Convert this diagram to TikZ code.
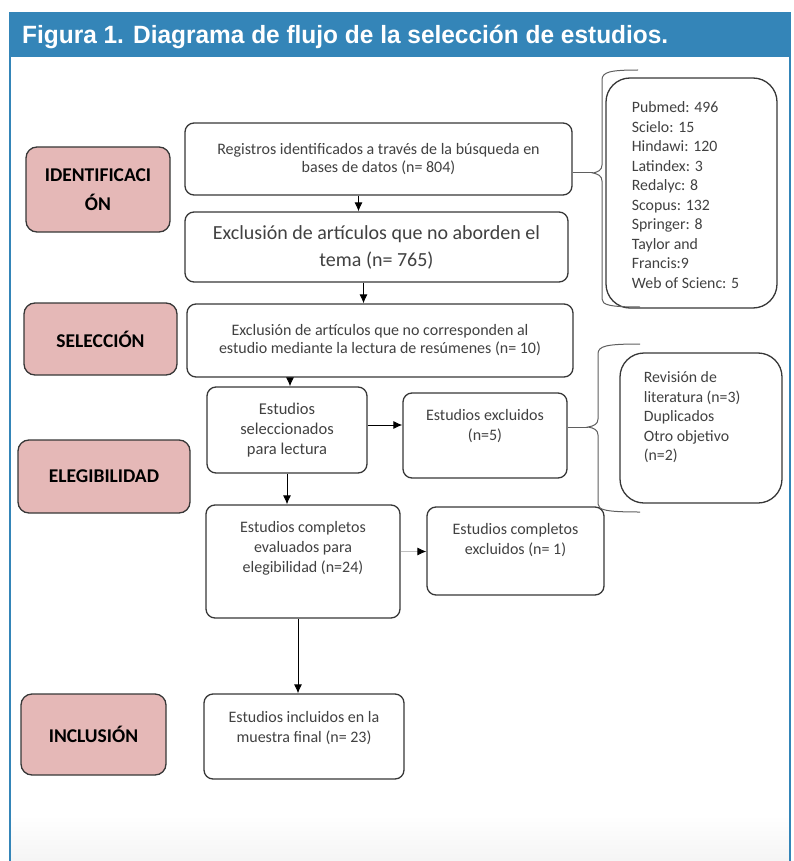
\documentclass[tikz,border=0pt]{standalone}
\usepackage{fontspec}
\setmainfont{Carlito}
\newfontfamily\titlefont{Liberation Sans}
\usepackage{graphicx}
\usetikzlibrary{positioning,arrows.meta}
\definecolor{hdrblue}{RGB}{52,133,184}
\definecolor{stagepink}{RGB}{229,184,183}
\definecolor{boxline}{RGB}{55,55,55}
\definecolor{boxtext}{RGB}{65,65,65}
\tikzset{
  flowbox/.style={draw=boxline, line width=1.3pt, rounded corners=9pt, fill=white, text=boxtext, align=center, font=\fontsize{16}{18}\selectfont},
  stagebox/.style={draw=boxline, line width=1.3pt, rounded corners=11pt, fill=stagepink, align=center, font=\bfseries\fontsize{19.5}{29}\selectfont},
  notebox/.style={draw=boxline, line width=1.3pt, rounded corners=24pt, fill=white},
  toptext/.style={anchor=north, yshift=-14pt, text=boxtext, align=center, font=\fontsize{16}{20}\selectfont},
  listtext/.style={anchor=north west, text=boxtext, align=left, font=\fontsize{15.8}{19.5}\selectfont},
  flowarrow/.style={-{Latex[length=9pt,width=8pt]}, line width=0.8pt, black},
  bracket/.style={line width=1pt, draw=boxline!80}
}
\newcommand{\stage}[6]{\node[stagebox, minimum width=#3, minimum height=#4] (#5) at ( #1 , #2 ) {#6};}
\newcommand{\flowbox}[6]{\node[flowbox, minimum width=#3, minimum height=#4] (#5) at ( #1 , #2 ) {#6};}
\newcommand{\topbox}[6]{\node[flowbox, minimum width=#3, minimum height=#4, label={[toptext]north:{#6}}] (#5) at ( #1 , #2 ) {};}
\begin{document}
\begin{tikzpicture}[x=1pt, y=-1pt]
    \useasboundingbox (0,0) rectangle (794,861);
    % frame and title
    \shade[top color=white, bottom color=black!4] (11,815) rectangle (789,861);
    \fill[hdrblue] (9,12) rectangle (791,57);
    \draw[hdrblue, line width=2pt] (10,57) -- (10,861);
    \draw[hdrblue, line width=2pt] (790,57) -- (790,861);
    \node[anchor=base west, inner sep=0pt, text=white, font=\titlefont\bfseries\fontsize{25}{28}\selectfont] (title) at (22,44)
        {\resizebox{646pt}{\height}{Figura 1. Diagrama de flujo de la selección de estudios.}};

    % stages
    \stage{98}{189.5}{144pt}{85pt}{ident}{IDENTIFICACI\\ÓN}
    \stage{100.5}{339}{153pt}{72pt}{selec}{SELECCIÓN}
    \stage{104}{476.5}{172pt}{73pt}{elegi}{ELEGIBILIDAD}
    \stage{93.5}{734.5}{145pt}{81pt}{inclu}{INCLUSIÓN}

    % flow
    \flowbox{378.5}{159}{387pt}{72pt}{regis}{Registros identificados a través de la búsqueda en\\bases de datos (n= 804)}
    \node[flowbox, font=\fontsize{20}{27}\selectfont, minimum width=383pt, minimum height=70pt] (tema) at ( 376.5 , 247 )
        {Exclusión de artículos que no aborden el\\tema (n= 765)};
    \flowbox{380}{340.5}{386pt}{73pt}{resum}{Exclusión de artículos que no corresponden al\\estudio mediante la lectura de resúmenes (n= 10)}
    \node[flowbox, font=\fontsize{16.5}{20}\selectfont, minimum width=160pt, minimum height=86pt] (leido) at ( 287 , 430 )
        {Estudios\\seleccionados\\para lectura};
    \topbox{485}{435.5}{164pt}{85pt}{excl}{Estudios excluidos\\(n=5)}
    \topbox{303}{561.5}{194pt}{113pt}{compl}{Estudios completos\\evaluados para\\elegibilidad (n=24)}
    \topbox{515.5}{551}{177pt}{88pt}{cexcl}{Estudios completos\\excluidos (n= 1)}
    \topbox{304}{736.5}{200pt}{85pt}{final}{Estudios incluidos en la\\muestra final (n= 23)}

    % notes
    \node[notebox, minimum width=171pt, minimum height=230pt,
          label={[listtext, xshift=23pt, yshift=-21pt]north west:{Pubmed: 496\\Scielo: 15\\Hindawi: 120\\Latindex: 3\\Redalyc: 8\\Scopus: 132\\Springer: 8\\Taylor and\\Francis:9\\Web of Scienc: 5}}]
          (bases) at ( 691.5 , 193 ) {};
    \node[notebox, minimum width=162pt, minimum height=150pt,
          label={[listtext, xshift=21pt, yshift=-16pt]north west:{Revisión de\\literatura (n=3)\\Duplicados\\Otro objetivo\\(n=2)}}]
          (motivo) at ( 701 , 428 ) {};

    % braces
    \draw[bracket] (638,70) .. controls (610,70) and (602,72) .. (602,80) -- (602,165)
        .. controls (602,170) and (598,172) .. (593,173) coordinate (tipA)
        .. controls (598,174) and (602,176) .. (602,181) -- (602,299)
        .. controls (602,305) and (610,307) .. (640,307);
    \draw[bracket] (640,344) .. controls (606,344) and (598,346) .. (598,354) -- (598,419)
        .. controls (598,424) and (594,426) .. (588,427) coordinate (tipB)
        .. controls (594,428) and (598,430) .. (598,435) -- (598,504)
        .. controls (598,510) and (606,512) .. (640,512);
    \draw[bracket] (tipA) -- (tipA -| regis.east);
    \draw[bracket] (tipB) -- (tipB -| excl.east);

    % arrows
    \draw[flowarrow] ([xshift=-20pt]regis.south) -- ([xshift=-20pt]regis.south |- tema.north);
    \draw[flowarrow] ([xshift=-13pt]tema.south) -- ([xshift=-13pt]tema.south |- resum.north);
    \draw[flowarrow] ([xshift=3pt]leido.north |- resum.south) -- ([xshift=3pt]leido.north);
    \draw[flowarrow] ([yshift=5pt]leido.east) -- ([yshift=5pt]leido.east -| excl.west);
    \draw[flowarrow] (leido.south) -- (leido.south |- compl.north);
    \draw[-{Latex[length=9pt,width=8pt,black]}, line width=0.8pt, draw=black!25] ([yshift=10pt]compl.east) -- ([yshift=10pt]compl.east -| cexcl.west);
    \draw[flowarrow] ([xshift=-5pt]compl.south) -- ([xshift=-5pt]compl.south |- final.north);
\end{tikzpicture}
\end{document}
